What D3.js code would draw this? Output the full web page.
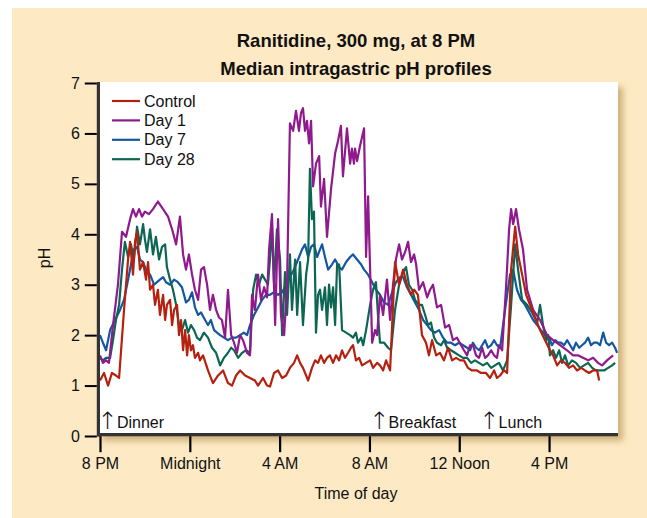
<!DOCTYPE html>
<html><head><meta charset="utf-8">
<script src="https://cdn.jsdelivr.net/npm/d3@7"></script>
<style>
html,body{margin:0;padding:0;background:#fff;}
svg{display:block;font-family:"Liberation Sans",Arial,Helvetica,sans-serif;}
</style></head>
<body>
<svg id="chart" width="647" height="518"></svg>
<script>
// ---- data (hours after 8 PM, median pH) ----
const seriesNames = ["Control", "Day 1", "Day 7", "Day 28"];
const xTickHours = [0, 4, 8, 12, 16, 20];
const xTickLabels = ["8 PM", "Midnight", "4 AM", "8 AM", "12 Noon", "4 PM"];
const yTicks = [0, 1, 2, 3, 4, 5, 6, 7];
const mealNames = ["Dinner", "Breakfast", "Lunch"];
const mealHours = [0.33, 12.43, 17.33];

const controlData = [[0.00,1.1],[0.18,1.25],[0.36,1.0],[0.53,1.25],[0.71,1.2],[0.85,1.15],[1.07,2.5],[1.25,3.5],[1.34,3.85],[1.47,3.2],[1.56,3.85],[1.65,4.05],[1.78,3.3],[1.92,3.45],[2.05,3.1],[2.14,3.45],[2.23,2.9],[2.36,3.0],[2.45,2.6],[2.58,2.9],[2.67,2.4],[2.81,2.8],[2.90,2.3],[2.98,2.6],[3.12,2.7],[3.21,2.2],[3.30,2.5],[3.43,2.6],[3.52,2.0],[3.61,2.3],[3.70,1.7],[3.79,2.1],[3.88,1.6],[3.96,2.0],[4.05,1.7],[4.14,1.8],[4.23,1.55],[4.37,1.65],[4.45,1.5],[4.59,1.6],[4.81,1.3],[5.03,1.05],[5.26,1.2],[5.48,1.3],[5.70,1.05],[5.88,1.0],[6.06,1.2],[6.24,1.3],[6.46,1.2],[6.68,1.15],[6.90,1.1],[7.04,1.0],[7.26,1.15],[7.44,1.0],[7.57,0.98],[7.75,1.25],[7.93,1.3],[8.11,1.15],[8.29,1.2],[8.46,1.35],[8.64,1.45],[8.78,1.6],[8.91,1.45],[9.04,1.35],[9.18,1.2],[9.27,1.1],[9.44,1.35],[9.58,1.5],[9.71,1.45],[9.84,1.6],[9.98,1.45],[10.11,1.55],[10.24,1.6],[10.38,1.45],[10.51,1.6],[10.65,1.5],[10.78,1.7],[10.91,1.55],[11.05,1.65],[11.18,1.75],[11.27,1.8],[11.40,1.5],[11.54,1.55],[11.67,1.4],[11.85,1.45],[12.03,1.5],[12.16,1.35],[12.34,1.45],[12.47,1.4],[12.61,1.3],[12.74,1.5],[12.92,1.3],[13.14,3.45],[13.32,3.0],[13.50,3.3],[13.67,3.0],[13.85,2.8],[13.99,2.9],[14.16,2.8],[14.34,2.0],[14.52,1.85],[14.65,1.6],[14.79,1.9],[14.97,1.6],[15.14,1.65],[15.32,1.5],[15.50,1.75],[15.68,1.5],[15.86,1.55],[16.04,1.5],[16.21,1.5],[16.39,1.35],[16.57,1.3],[16.79,1.3],[16.97,1.25],[17.19,1.25],[17.37,1.15],[17.55,1.3],[17.68,1.15],[17.82,1.2],[17.99,1.3],[18.13,1.25],[18.31,3.3],[18.49,4.15],[18.62,3.6],[18.80,3.2],[18.98,2.8],[19.15,2.6],[19.38,2.35],[19.60,2.1],[19.82,1.9],[20.04,1.7],[20.18,1.6],[20.36,1.4],[20.53,1.5],[20.71,1.45],[20.89,1.35],[21.07,1.4],[21.25,1.3],[21.43,1.35],[21.60,1.3],[21.78,1.25],[21.96,1.3],[22.14,1.3],[22.23,1.1]];

const day1Data = [[0.00,1.6],[0.13,1.45],[0.27,1.5],[0.40,1.45],[0.58,2.2],[0.80,3.0],[0.98,4.05],[1.16,3.95],[1.34,4.3],[1.47,4.5],[1.60,4.35],[1.74,4.5],[1.87,4.35],[2.00,4.45],[2.18,4.4],[2.36,4.5],[2.58,4.65],[2.81,4.5],[3.03,4.35],[3.21,4.1],[3.39,3.8],[3.56,4.35],[3.70,3.6],[3.83,3.3],[3.96,3.6],[4.10,3.2],[4.23,2.9],[4.37,2.7],[4.50,3.3],[4.63,3.35],[4.77,3.0],[4.90,2.5],[5.03,2.8],[5.17,2.5],[5.30,2.35],[5.43,2.3],[5.57,1.95],[5.70,2.9],[5.84,2.0],[5.97,1.85],[6.10,1.65],[6.24,2.0],[6.37,1.9],[6.55,1.65],[6.68,1.6],[6.77,2.8],[6.90,2.5],[7.04,3.2],[7.17,2.7],[7.31,2.95],[7.44,2.75],[7.53,3.7],[7.66,4.4],[7.80,2.2],[7.93,4.3],[8.06,2.4],[8.20,2.0],[8.33,3.0],[8.46,6.2],[8.60,6.05],[8.73,6.45],[8.86,6.05],[8.95,6.4],[9.04,6.5],[9.13,6.05],[9.22,6.25],[9.31,5.8],[9.40,6.25],[9.49,4.95],[9.62,5.4],[9.76,5.55],[9.84,4.55],[9.98,5.1],[10.11,3.95],[10.29,4.9],[10.47,5.6],[10.60,5.85],[10.73,6.15],[10.82,5.15],[11.00,6.1],[11.14,5.4],[11.22,5.7],[11.31,5.4],[11.36,5.7],[11.45,5.45],[11.58,5.75],[11.76,6.1],[11.85,3.55],[11.94,4.75],[12.12,1.85],[12.25,2.1],[12.34,2.0],[12.47,2.8],[12.61,2.4],[12.78,3.1],[12.92,2.3],[13.05,3.0],[13.18,3.5],[13.32,3.8],[13.45,3.5],[13.59,3.65],[13.72,3.85],[13.85,3.45],[13.99,3.6],[14.08,3.4],[14.21,2.9],[14.39,3.05],[14.57,2.75],[14.70,2.9],[14.83,3.0],[15.01,2.55],[15.19,2.6],[15.37,2.15],[15.55,2.2],[15.72,1.9],[15.90,1.95],[16.08,1.8],[16.21,1.7],[16.35,1.6],[16.48,1.8],[16.61,1.8],[16.75,1.6],[16.88,1.55],[17.02,1.75],[17.15,1.55],[17.28,1.6],[17.42,1.7],[17.55,1.6],[17.68,1.55],[17.77,1.8],[17.91,1.7],[18.09,3.0],[18.22,4.1],[18.31,4.5],[18.40,4.2],[18.53,4.5],[18.66,4.1],[18.84,3.7],[19.02,2.9],[19.29,2.5],[19.60,2.3],[19.91,2.0],[20.18,1.9],[20.49,1.8],[20.80,1.7],[21.07,1.6],[21.29,1.6],[21.51,1.55],[21.74,1.5],[21.96,1.55],[22.18,1.45],[22.36,1.4],[22.58,1.5],[22.85,1.6]];

const day7Data = [[0.00,2.0],[0.13,1.85],[0.27,1.7],[0.45,2.1],[0.67,2.3],[0.89,2.5],[1.07,2.7],[1.25,3.1],[1.38,3.4],[1.51,3.7],[1.65,3.75],[1.78,3.5],[1.92,3.45],[2.09,3.25],[2.23,3.2],[2.41,3.0],[2.54,3.05],[2.67,3.1],[2.81,3.15],[2.94,3.05],[3.12,3.0],[3.30,3.1],[3.47,3.05],[3.65,2.95],[3.83,2.65],[3.96,2.7],[4.10,2.85],[4.23,2.55],[4.37,2.4],[4.50,2.45],[4.68,2.3],[4.81,2.2],[4.94,2.3],[5.08,2.1],[5.21,2.05],[5.35,2.0],[5.52,1.95],[5.70,1.9],[5.88,1.95],[6.06,1.95],[6.24,2.0],[6.41,2.05],[6.55,2.0],[6.68,2.2],[6.86,2.4],[7.04,2.55],[7.22,2.7],[7.39,2.8],[7.57,2.8],[7.75,2.85],[7.93,2.8],[8.11,2.85],[8.29,3.0],[8.46,3.15],[8.64,3.3],[8.82,3.5],[9.00,3.7],[9.13,3.8],[9.27,3.55],[9.40,3.75],[9.53,3.8],[9.67,3.55],[9.80,3.7],[9.89,3.8],[10.02,3.55],[10.16,3.3],[10.33,3.4],[10.47,3.5],[10.65,3.35],[10.78,3.3],[10.96,3.45],[11.14,3.55],[11.27,3.6],[11.45,3.5],[11.63,3.4],[11.76,3.3],[11.94,3.2],[12.12,3.05],[12.29,2.9],[12.47,2.8],[12.65,2.65],[12.83,2.6],[13.01,2.85],[13.18,3.05],[13.36,3.15],[13.50,3.15],[13.67,2.95],[13.85,2.8],[14.03,2.65],[14.21,2.5],[14.39,2.3],[14.57,2.2],[14.74,2.1],[14.92,2.05],[15.10,2.1],[15.28,1.95],[15.46,1.85],[15.63,1.85],[15.81,1.8],[15.99,1.85],[16.17,1.8],[16.35,1.75],[16.48,1.7],[16.61,1.85],[16.75,1.75],[16.88,1.7],[17.02,1.8],[17.15,1.9],[17.28,1.75],[17.42,1.8],[17.55,1.9],[17.68,1.8],[17.82,1.75],[18.04,2.5],[18.26,3.2],[18.40,3.3],[18.57,2.9],[18.75,2.7],[18.93,2.6],[19.11,2.45],[19.29,2.3],[19.47,2.2],[19.64,2.1],[19.82,2.0],[20.00,1.95],[20.13,1.8],[20.27,1.9],[20.40,1.85],[20.53,1.85],[20.67,1.8],[20.80,1.9],[20.94,1.8],[21.07,1.7],[21.20,1.85],[21.34,1.75],[21.47,1.8],[21.60,1.85],[21.74,1.95],[21.87,1.8],[22.00,1.85],[22.14,1.85],[22.27,1.8],[22.41,2.05],[22.54,1.85],[22.67,1.8],[22.81,1.85],[22.94,1.75],[23.03,1.65]];

const day28Data = [[0.00,1.55],[0.13,1.5],[0.27,1.55],[0.45,1.55],[0.58,1.9],[0.71,2.3],[0.85,2.6],[0.98,3.3],[1.11,3.85],[1.25,3.55],[1.38,3.8],[1.51,3.5],[1.65,4.15],[1.78,3.8],[1.92,4.2],[2.00,3.9],[2.09,3.65],[2.23,4.1],[2.36,3.6],[2.49,3.95],[2.63,3.5],[2.76,3.75],[2.90,3.8],[2.98,3.35],[3.12,3.1],[3.25,2.9],[3.39,2.6],[3.52,2.2],[3.65,2.1],[3.79,2.3],[3.92,2.05],[4.05,2.2],[4.19,2.1],[4.32,1.95],[4.45,1.9],[4.63,2.05],[4.81,1.95],[4.99,1.75],[5.17,1.65],[5.35,1.4],[5.52,1.55],[5.70,1.65],[5.84,1.75],[5.97,1.7],[6.15,1.55],[6.33,1.65],[6.50,1.7],[6.68,1.65],[6.82,2.9],[6.95,3.2],[7.08,3.0],[7.22,3.2],[7.35,3.1],[7.48,3.0],[7.57,3.5],[7.66,4.15],[7.75,3.0],[7.88,4.1],[8.02,3.5],[8.11,2.0],[8.24,3.25],[8.33,2.4],[8.46,3.6],[8.55,2.5],[8.69,3.5],[8.78,2.4],[8.91,3.45],[9.04,2.2],[9.18,3.2],[9.27,3.5],[9.35,5.3],[9.44,4.3],[9.53,4.45],[9.62,2.05],[9.71,2.8],[9.80,2.9],[9.89,2.5],[10.02,2.95],[10.11,2.2],[10.20,3.0],[10.29,2.55],[10.38,2.95],[10.47,2.2],[10.56,3.4],[10.65,3.4],[10.78,2.1],[10.96,2.05],[11.14,2.0],[11.27,1.95],[11.40,2.05],[11.49,1.85],[11.63,1.95],[11.72,1.8],[11.85,2.1],[12.03,2.6],[12.16,2.9],[12.29,3.05],[12.38,2.4],[12.47,1.85],[12.65,1.85],[12.83,1.75],[12.96,1.7],[13.14,2.5],[13.32,3.0],[13.50,3.25],[13.63,3.35],[13.76,3.0],[13.90,2.9],[14.03,2.7],[14.21,2.6],[14.34,2.6],[14.48,2.4],[14.61,2.2],[14.74,2.25],[14.88,1.95],[15.01,1.85],[15.19,1.8],[15.32,1.9],[15.46,1.75],[15.63,1.7],[15.81,1.65],[15.99,1.6],[16.17,1.55],[16.35,1.55],[16.53,1.45],[16.70,1.5],[16.88,1.45],[17.06,1.4],[17.24,1.45],[17.42,1.35],[17.59,1.4],[17.77,1.45],[17.95,1.3],[18.13,1.5],[18.31,2.6],[18.49,3.8],[18.62,3.3],[18.80,2.7],[19.02,2.6],[19.24,2.45],[19.47,2.25],[19.60,2.6],[19.73,2.2],[19.87,1.9],[19.96,2.0],[20.04,1.6],[20.18,1.7],[20.31,1.55],[20.45,1.7],[20.58,1.45],[20.71,1.6],[20.85,1.4],[21.02,1.5],[21.20,1.45],[21.38,1.35],[21.56,1.4],[21.74,1.45],[21.92,1.35],[22.09,1.3],[22.27,1.3],[22.45,1.3],[22.63,1.35],[22.81,1.4],[22.94,1.45]];

const seriesData = [controlData, day1Data, day7Data, day28Data];
const seriesColors = ["#b5200f", "#8e1a8e", "#1457a0", "#0d6653"];
const drawOrder = [2, 3, 1, 0];

// ---- layout ----
const svg = d3.select("#chart");
const panel = {left: 100, right: 618, top: 82, bottom: 436};
const x = d3.scaleLinear().domain([0, 23.07]).range([panel.left, panel.right]);
const y = d3.scaleLinear().domain([0, 7]).range([436, 83]);

const defs = svg.append("defs");
const f = defs.append("filter").attr("id", "shadow").attr("x", "-5%").attr("y", "-5%").attr("width", "115%").attr("height", "115%");
f.append("feDropShadow").attr("dx", 5).attr("dy", 5).attr("stdDeviation", 3)
  .attr("flood-color", "#a9843f").attr("flood-opacity", 0.55);

// background
svg.append("rect").attr("x", 12).attr("y", 8).attr("width", 635).attr("height", 510).attr("fill", "#fde9c4");

// white panel
svg.append("rect").attr("x", 97).attr("y", panel.top).attr("width", panel.right - 97)
  .attr("height", panel.bottom - panel.top).attr("fill", "#fff").attr("filter", "url(#shadow)");

// title
const title = svg.append("g").attr("font-weight", "bold").attr("font-size", 18.5).attr("fill", "#111").attr("text-anchor", "middle");
title.append("text").attr("x", 356).attr("y", 47).text("Ranitidine, 300 mg, at 8 PM");
title.append("text").attr("x", 356).attr("y", 74.5).text("Median intragastric pH profiles");

// series lines
const line = d3.line().x(d => x(d[0])).y(d => y(d[1]));
const lines = svg.append("g").attr("fill", "none").attr("stroke-width", 2.2).attr("stroke-linejoin", "round");
drawOrder.forEach(i => {
  lines.append("path").datum(seriesData[i]).attr("d", line).attr("stroke", seriesColors[i]);
});

// axis bars
svg.append("line").attr("x1", 98.4).attr("x2", 98.4).attr("y1", panel.top).attr("y2", 436.5)
  .attr("stroke", "#333").attr("stroke-width", 3.2);
svg.append("line").attr("x1", 97).attr("x2", panel.right).attr("y1", 434.6).attr("y2", 434.6)
  .attr("stroke", "#333").attr("stroke-width", 3.2);

// y axis
const yAxis = d3.axisLeft(y).tickValues(yTicks).tickFormat(d3.format("d")).tickSize(12).tickPadding(5);
const gy = svg.append("g").attr("transform", "translate(96.8,0)").call(yAxis);
gy.select(".domain").remove();
gy.selectAll(".tick line").attr("stroke", "#000").attr("stroke-width", 2);
gy.selectAll(".tick text").attr("font-size", 16).attr("font-family", "Liberation Sans, Arial, sans-serif").attr("fill", "#111");

// x axis
const xAxis = d3.axisBottom(x).tickValues(xTickHours).tickFormat((d, i) => xTickLabels[i]).tickSize(16).tickPadding(5);
const gx = svg.append("g").attr("transform", "translate(0,436.2)").call(xAxis);
gx.select(".domain").remove();
gx.selectAll(".tick line").attr("stroke", "#000").attr("stroke-width", 2.2);
gx.selectAll(".tick text").attr("font-size", 16).attr("font-family", "Liberation Sans, Arial, sans-serif").attr("fill", "#111").attr("dy", "0.71em");

// axis titles
svg.append("text").attr("x", 356).attr("y", 499).attr("text-anchor", "middle").attr("font-size", 16).attr("fill", "#111").text("Time of day");
svg.append("text").attr("transform", "translate(50,258) rotate(-90)").attr("text-anchor", "middle").attr("font-size", 16).attr("fill", "#111").text("pH");

// legend
const leg = svg.append("g");
seriesNames.forEach((n, i) => {
  const yy = 101 + i * 19.4;
  leg.append("line").attr("x1", 112).attr("x2", 140).attr("y1", yy).attr("y2", yy).attr("stroke", seriesColors[i]).attr("stroke-width", 2.2);
  leg.append("text").attr("x", 144).attr("y", yy + 5.5).attr("font-size", 16).attr("fill", "#111").text(n);
});

// meal annotations
const meals = svg.append("g").attr("fill", "#111");
mealNames.forEach((m, i) => {
  const mx = x(mealHours[i]);
  meals.append("text").attr("x", mx).attr("y", 429).attr("text-anchor", "middle").attr("font-size", 24).attr("font-family", "DejaVu Sans, sans-serif").attr("font-weight", 200).text("\u2191");
  meals.append("text").attr("x", mx + 9.5).attr("y", 428).attr("font-size", 16).text(m);
});
</script>
</body></html>
